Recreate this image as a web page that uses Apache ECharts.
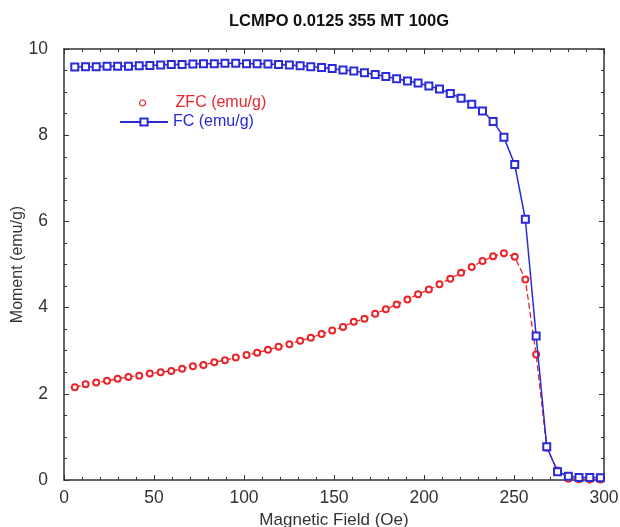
<!DOCTYPE html>
<html>
<head>
<meta charset="utf-8">
<script src="https://cdn.jsdelivr.net/npm/echarts@6/dist/echarts.min.js"></script>
<style>
html,body{margin:0;padding:0;background:#fff;}
#chart{width:620px;height:527px;}
</style>
</head>
<body>
<div id="chart"></div>
<script>
// Field values (Oe)
var fieldValues = [6.0, 12.0, 17.9, 23.9, 29.8, 35.8, 41.8, 47.7, 53.7, 59.6,
  65.6, 71.6, 77.5, 83.5, 89.4, 95.4, 101.4, 107.3, 113.3, 119.2,
  125.2, 131.2, 137.1, 143.1, 149.0, 155.0, 161.0, 166.9, 172.9, 178.8,
  184.8, 190.8, 196.7, 202.7, 208.6, 214.6, 220.6, 226.5, 232.5, 238.4,
  244.4, 250.4, 256.3, 262.3, 268.2, 274.2, 280.2, 286.1, 292.1, 298.0];
// ZFC moment (emu/g)
var zfcValues = [2.15, 2.22, 2.26, 2.30, 2.35, 2.39, 2.42, 2.47, 2.50, 2.53,
  2.58, 2.64, 2.67, 2.73, 2.78, 2.84, 2.90, 2.95, 3.02, 3.09,
  3.15, 3.23, 3.30, 3.39, 3.47, 3.55, 3.67, 3.74, 3.86, 3.96,
  4.07, 4.19, 4.31, 4.42, 4.54, 4.67, 4.81, 4.94, 5.08, 5.19,
  5.26, 5.18, 4.65, 2.91, 0.75, 0.22, 0.03, 0.02, 0.01, 0.01];
// FC moment (emu/g)
var fcValues = [9.58, 9.59, 9.59, 9.60, 9.60, 9.60, 9.61, 9.62, 9.63, 9.64,
  9.64, 9.65, 9.66, 9.66, 9.67, 9.67, 9.66, 9.66, 9.65, 9.64,
  9.63, 9.61, 9.59, 9.57, 9.55, 9.51, 9.49, 9.45, 9.41, 9.36,
  9.31, 9.26, 9.21, 9.14, 9.07, 8.97, 8.86, 8.72, 8.56, 8.32,
  7.95, 7.32, 6.05, 3.34, 0.77, 0.19, 0.086, 0.06, 0.06, 0.05];
var seriesNames = ['ZFC (emu/g)', 'FC (emu/g)'];
var titleText = 'LCMPO 0.0125 355 MT 100G';
var xName = 'Magnetic Field (Oe)';
var yName = 'Moment (emu/g)';

var RED = '#e8262a';
var BLUE = '#2a2ad8';
var FONT = "'Liberation Sans', Arial, sans-serif";

function pairs(ys) { return fieldValues.map(function (x, i) { return [x, ys[i]]; }); }

var chart = echarts.init(document.getElementById('chart'), null, {renderer: 'canvas'});

function axisLine() { return {show: true, onZero: false, lineStyle: {color: '#333', width: 1.5}}; }
function tick() { return {show: true, inside: true, length: 5, lineStyle: {color: '#333', width: 1}}; }
function minor(n) { return {show: true, splitNumber: n, length: 3, lineStyle: {color: '#333', width: 1}}; }

chart.setOption({
  backgroundColor: '#fff',
  animation: false,
  title: {
    text: titleText,
    left: 334,
    top: 8,
    textAlign: 'center',
    textStyle: {fontFamily: FONT, fontSize: 16.5, fontWeight: 'bold', color: '#111'}
  },
  legend: [
    {
      data: [{name: seriesNames[0], icon: 'circle'}],
      orient: 'vertical',
      left: 139, top: 95,
      padding: 0,
      itemWidth: 6, itemHeight: 6,
      itemStyle: {color: '#fff', borderColor: RED, borderWidth: 1.2},
      textStyle: {fontFamily: FONT, fontSize: 16, color: RED, padding: [0, 0, 0, 25]},
      selectedMode: false
    },
    {
      data: [seriesNames[1]],
      orient: 'vertical',
      left: 119, top: 114,
      padding: 0,
      itemWidth: 48, itemHeight: 9,
      textStyle: {fontFamily: FONT, fontSize: 16, color: BLUE},
      selectedMode: false
    }
  ],
  grid: {left: 64, right: 16, top: 49, bottom: 47, containLabel: false, outerBoundsMode: 'none'},
  xAxis: [
    {
      type: 'value', min: 0, max: 300, interval: 50,
      name: xName, nameLocation: 'middle', nameGap: 27,
      nameTextStyle: {fontFamily: FONT, fontSize: 17, color: '#333'},
      axisLine: axisLine(), axisTick: tick(), minorTick: minor(5),
      splitLine: {show: false},
      axisLabel: {fontFamily: FONT, fontSize: 17.5, color: '#333', margin: 9}
    },
    {
      type: 'value', min: 0, max: 300, interval: 50, position: 'top',
      axisLine: axisLine(), axisTick: tick(), minorTick: minor(5),
      splitLine: {show: false}, axisLabel: {show: false}
    }
  ],
  yAxis: [
    {
      type: 'value', min: 0, max: 10, interval: 2,
      name: yName, nameLocation: 'middle', nameGap: 38, nameRotate: 90,
      nameMoveOverlap: false,
      nameTextStyle: {fontFamily: FONT, fontSize: 16, color: '#333'},
      axisLine: axisLine(), axisTick: tick(), minorTick: minor(4),
      splitLine: {show: false},
      axisLabel: {fontFamily: FONT, fontSize: 17.5, color: '#333', margin: 16}
    },
    {
      type: 'value', min: 0, max: 10, interval: 2, position: 'right',
      axisLine: axisLine(), axisTick: tick(), minorTick: minor(4),
      splitLine: {show: false}, axisLabel: {show: false}
    }
  ],
  series: [
    {
      name: seriesNames[0], type: 'line', xAxisIndex: 0, yAxisIndex: 0,
      data: pairs(zfcValues),
      symbol: 'emptyCircle', symbolSize: 6,
      itemStyle: {color: RED, borderColor: RED, borderWidth: 1.2},
      lineStyle: {color: RED, width: 1.3, type: [6, 3]},
      z: 2
    },
    {
      name: seriesNames[1], type: 'line', xAxisIndex: 0, yAxisIndex: 0,
      data: pairs(fcValues),
      symbol: 'emptyRect', symbolSize: 7,
      itemStyle: {color: BLUE, borderColor: BLUE, borderWidth: 1.5},
      lineStyle: {color: BLUE, width: 1.5},
      z: 3
    }
  ]
});
</script>
</body>
</html>
